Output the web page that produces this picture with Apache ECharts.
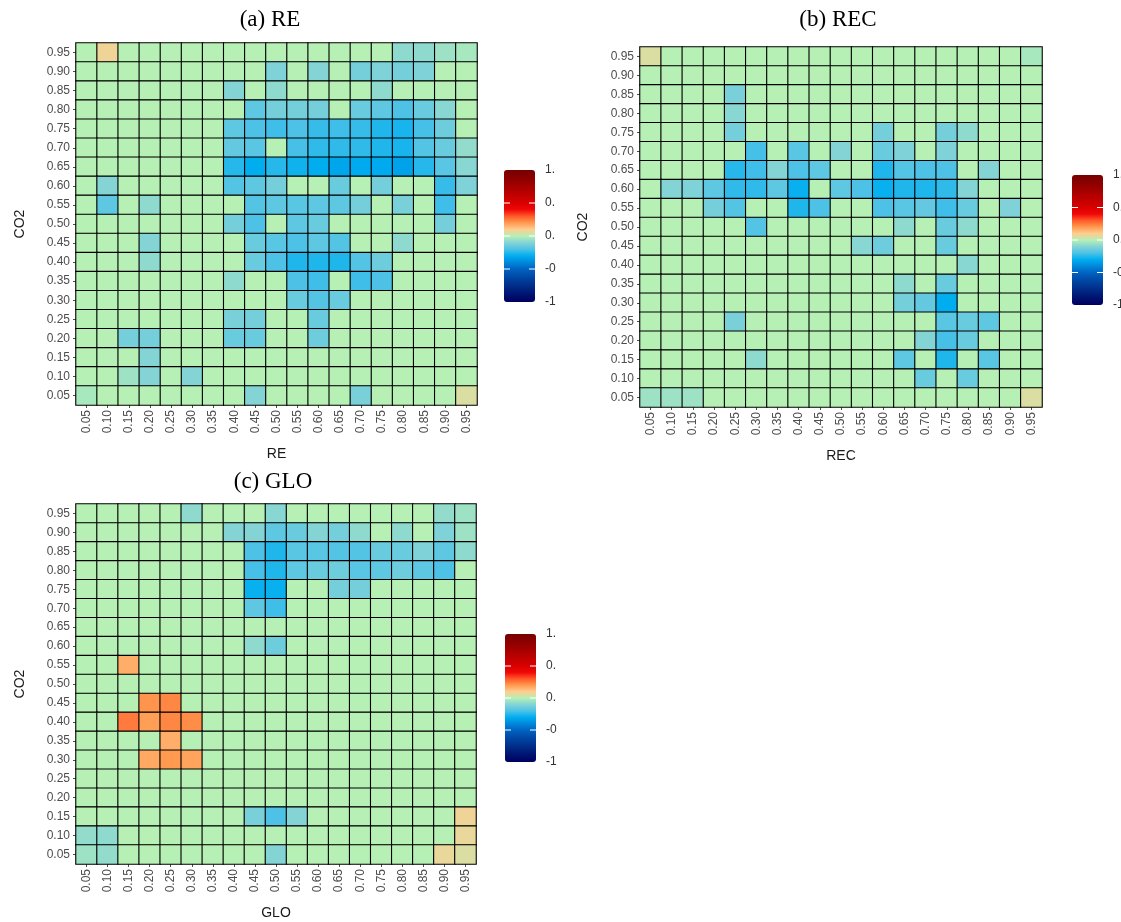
<!DOCTYPE html>
<html>
<head>
<meta charset="utf-8">
<script src="https://cdn.jsdelivr.net/npm/echarts@6/dist/echarts.min.js"></script>
<style>
  html, body { margin: 0; padding: 0; background: #ffffff; }
  #chart { width: 1121px; height: 922px; }
</style>
</head>
<body>
<div id="chart"></div>
<script>
// Shared category levels for both axes (0.05 ... 0.95)
const levels = ['0.05','0.10','0.15','0.20','0.25','0.30','0.35','0.40','0.45','0.50',
                '0.55','0.60','0.65','0.70','0.75','0.80','0.85','0.90','0.95'];

// Correlation grids: each row is one CO2 level, listed from 0.95 (top) down to 0.05 (bottom);
// each column is one level of the other variable, 0.05 ... 0.95.
const reRows = [
  [0,0.08,0,0,0,0,0,0,0,0,0,0,0,0,0,-0.08,-0.08,-0.05,-0.03],
  [0,0,0,0,0,0,0,0,0,-0.11,0,-0.1,0,-0.13,-0.11,-0.13,-0.11,0,0],
  [0,0,0,0,0,0,0,-0.1,0,-0.08,0,0,0,0,-0.08,0,0,0,0],
  [0,0,0,0,0,0,0,0,-0.17,-0.13,-0.13,-0.13,0,-0.15,-0.17,-0.2,-0.15,-0.09,0],
  [0,0,0,0,0,0,0,-0.17,-0.2,-0.22,-0.2,-0.23,-0.22,-0.23,-0.26,-0.27,-0.21,-0.14,0],
  [0,0,0,0,0,0,0,-0.16,-0.18,0,-0.21,-0.24,-0.24,-0.24,-0.26,-0.27,-0.19,-0.15,-0.07],
  [0,0,0,0,0,0,0,-0.25,-0.3,-0.25,-0.28,-0.3,-0.32,-0.31,-0.31,-0.33,-0.25,-0.18,-0.09],
  [0,-0.1,0,0,0,0,0,-0.19,-0.17,-0.13,0,0,-0.15,0,-0.13,0,0,-0.23,-0.11],
  [0,-0.17,0,-0.08,0,0,0,0,-0.19,-0.17,-0.18,-0.17,-0.17,-0.13,0,-0.12,0,-0.22,0],
  [0,0,0,0,0,0,0,-0.13,-0.2,0,-0.17,-0.15,0,0,0,0,0,-0.13,0],
  [0,0,0,-0.1,0,0,0,0,-0.15,-0.18,-0.2,-0.17,-0.19,0,0,-0.08,0,0,0],
  [0,0,0,-0.08,0,0,0,0,-0.15,-0.2,-0.26,-0.26,-0.26,-0.19,-0.14,0,0,0,0],
  [0,0,0,0,0,0,0,-0.08,0,0,-0.2,-0.22,0,-0.22,-0.2,0,0,0,0],
  [0,0,0,0,0,0,0,0,0,0,-0.15,-0.19,-0.15,0,0,0,0,0,0],
  [0,0,0,0,0,0,0,-0.12,-0.13,0,0,-0.15,0,0,0,0,0,0,0],
  [0,0,-0.13,-0.13,0,0,0,-0.15,-0.15,0,0,-0.14,0,0,0,0,0,0,0],
  [0,0,0,-0.1,0,0,0,0,0,0,0,0,0,0,0,0,0,0,0],
  [0,0,-0.05,-0.1,0,-0.1,0,0,0,0,0,0,0,0,0,0,0,0,0],
  [-0.03,0,0,0,0,0,0,0,-0.1,0,0,0,0,-0.12,0,0,0,0,0.05]
];

const recRows = [
  [0.05,0,0,0,0,0,0,0,0,0,0,0,0,0,0,0,0,0,-0.03],
  [0,0,0,0,0,0,0,0,0,0,0,0,0,0,0,0,0,0,0],
  [0,0,0,0,-0.12,0,0,0,0,0,0,0,0,0,0,0,0,0,0],
  [0,0,0,0,-0.09,0,0,0,0,0,0,0,0,0,0,0,0,0,0],
  [0,0,0,0,-0.13,0,0,0,0,0,0,-0.13,0,0,-0.13,-0.08,0,0,0],
  [0,0,0,0,0,-0.21,0,-0.18,0,-0.1,0,-0.15,-0.11,0,-0.11,0,0,0,0],
  [0,0,0,0,-0.25,-0.22,-0.1,-0.2,-0.17,0,0,-0.26,-0.19,-0.2,-0.2,0,-0.1,0,0],
  [0,-0.1,-0.11,-0.17,-0.24,-0.24,-0.17,-0.29,0,-0.17,-0.2,-0.29,-0.26,-0.26,-0.24,-0.1,0,0,0],
  [0,0,0,-0.13,-0.19,0,0,-0.26,-0.2,0,0,-0.2,-0.18,-0.16,-0.22,-0.15,0,-0.11,0],
  [0,0,0,0,0,-0.19,0,0,0,0,0,0,-0.08,0,-0.15,-0.08,0,0,0],
  [0,0,0,0,0,0,0,0,0,0,-0.09,-0.14,0,0,-0.15,0,0,0,0],
  [0,0,0,0,0,0,0,0,0,0,0,0,0,0,0,-0.09,0,0,0],
  [0,0,0,0,0,0,0,0,0,0,0,0,-0.08,0,-0.15,0,0,0,0],
  [0,0,0,0,0,0,0,0,0,0,0,0,-0.13,-0.16,-0.3,0,0,0,0],
  [0,0,0,0,-0.12,0,0,0,0,0,0,0,0,0,-0.18,-0.15,-0.17,0,0],
  [0,0,0,0,0,0,0,0,0,0,0,0,0,-0.1,-0.21,-0.15,0,0,0],
  [0,0,0,0,0,-0.08,0,0,0,0,0,0,-0.17,0,-0.26,0,-0.18,0,0],
  [0,0,0,0,0,0,0,0,0,0,0,0,0,-0.15,0,-0.15,0,0,0],
  [-0.05,-0.05,-0.05,0,0,0,0,0,0,0,0,0,0,0,0,0,0,0,0.05]
];

const gloRows = [
  [0,0,0,0,0,-0.08,0,0,0,-0.09,0,0,0,0,0,0,0,-0.07,-0.05],
  [0,0,0,0,0,0,0,-0.1,-0.1,-0.17,-0.15,-0.1,-0.13,-0.08,0,-0.08,0,-0.11,-0.05],
  [0,0,0,0,0,0,0,0,-0.2,-0.26,-0.18,-0.18,-0.19,-0.19,-0.15,-0.15,-0.11,-0.17,-0.08],
  [0,0,0,0,0,0,0,0,-0.21,-0.26,-0.17,-0.15,-0.14,-0.18,-0.17,-0.14,-0.17,-0.2,0],
  [0,0,0,0,0,0,0,0,-0.29,-0.29,0,0,-0.13,-0.13,0,0,0,0,0],
  [0,0,0,0,0,0,0,0,-0.17,-0.22,0,0,0,0,0,0,0,0,0],
  [0,0,0,0,0,0,0,0,0,0,0,0,0,0,0,0,0,0,0],
  [0,0,0,0,0,0,0,0,-0.08,-0.14,0,0,0,0,0,0,0,0,0],
  [0,0,0.16,0,0,0,0,0,0,0,0,0,0,0,0,0,0,0,0],
  [0,0,0,0,0,0,0,0,0,0,0,0,0,0,0,0,0,0,0],
  [0,0,0,0.21,0.23,0,0,0,0,0,0,0,0,0,0,0,0,0,0],
  [0,0,0.25,0.19,0.23,0.22,0,0,0,0,0,0,0,0,0,0,0,0,0],
  [0,0,0,0,0.16,0,0,0,0,0,0,0,0,0,0,0,0,0,0],
  [0,0,0,0.17,0.2,0.18,0,0,0,0,0,0,0,0,0,0,0,0,0],
  [0,0,0,0,0,0,0,0,0,0,0,0,0,0,0,0,0,0,0],
  [0,0,0,0,0,0,0,0,0,0,0,0,0,0,0,0,0,0,0],
  [0,0,0,0,0,0,0,0,-0.12,-0.2,-0.1,0,0,0,0,0,0,0,0.08],
  [-0.07,-0.08,0,0,0,0,0,0,0,0,0,0,0,0,0,0,0,0,0.07],
  [-0.05,-0.07,0,0,0,0,0,0,0,-0.1,0,0,0,0,0,0,0,0.07,0.05]
];

// Colour scale from -1 to +1 (evenly spaced stops) and its tick labels
const palette = ['#00005e','#001070','#002480','#003894','#004caa','#0064c2','#0088dc',
                 '#00aef0','#4ec2e6','#84d4d6','#b6f0b4','#ffcc90','#ff9a50','#ff5a28',
                 '#f00808','#da0000','#c40000','#b00000','#9c0000','#880000','#760000'];
const scaleTicks = [1, 0.5, 0, -0.5, -1];
const scaleTickLabels = ['1.0', '0.5', '0.0', '-0.5', '-1.0'];

const panels = [
  { title: '(a) RE',  xName: 'RE',  rows: reRows,  grid: { left: 76,  top: 43,  width: 401, height: 362 },
    titleX: 270, titleY: 20,  bar: { x: 504,  mid: 236, half: 66 }, labelW: 13 },
  { title: '(b) REC', xName: 'REC', rows: recRows, grid: { left: 640, top: 47,  width: 402, height: 360 },
    titleX: 838, titleY: 20,  bar: { x: 1072, mid: 240, half: 65 }, labelW: 40 },
  { title: '(c) GLO', xName: 'GLO', rows: gloRows, grid: { left: 76,  top: 504, width: 400, height: 360 },
    titleX: 273, titleY: 482, bar: { x: 505,  mid: 698, half: 64 }, labelW: 13 }
];

function toCells(rows) {
  const cells = [];
  rows.forEach((row, r) => {
    row.forEach((v, c) => cells.push([c, levels.length - 1 - r, v]));
  });
  return cells;
}

const axisFont = 'Liberation Sans, Arial, sans-serif';
const labelStyle = { color: '#4d4d4d', fontSize: 12, fontFamily: axisFont };
const nameStyle = { color: '#1a1a1a', fontSize: 14, fontFamily: axisFont };

const graphics = [];
panels.forEach(p => {
  // panel title
  graphics.push({
    type: 'text', x: p.titleX, y: p.titleY,
    style: { text: p.title, fill: '#000', font: '23px "Liberation Serif", "Times New Roman", serif',
             textAlign: 'center', textVerticalAlign: 'middle' }
  });
  // colour bar
  const b = p.bar;
  const top = b.mid - b.half, h = b.half * 2, w = 31;
  graphics.push({
    type: 'rect', shape: { x: b.x, y: top, width: w, height: h, r: 3 },
    style: { fill: { type: 'linear', x: 0, y: 0, x2: 0, y2: 1,
      colorStops: palette.slice().reverse().map((c, i) => ({ offset: i / (palette.length - 1), color: c })) } }
  });
  scaleTicks.forEach((t, i) => {
    const y = b.mid - t * b.half;
    if (Math.abs(t) < 1) {
      graphics.push({ type: 'line', shape: { x1: b.x, y1: y, x2: b.x + 6, y2: y }, style: { stroke: '#fff', lineWidth: 1 } });
      graphics.push({ type: 'line', shape: { x1: b.x + w - 6, y1: y, x2: b.x + w, y2: y }, style: { stroke: '#fff', lineWidth: 1 } });
    }
    graphics.push({
      type: 'text', x: b.x + 41, y: y,
      style: { text: scaleTickLabels[i], fill: '#333', font: '12px ' + axisFont,
               textVerticalAlign: 'middle', width: p.labelW, overflow: 'truncate', ellipsis: '' }
    });
  });
});

const option = {
  backgroundColor: '#ffffff',
  animation: false,
  grid: panels.map(p => Object.assign({ containLabel: false }, p.grid)),
  xAxis: panels.map((p, i) => ({
    type: 'category', gridIndex: i, data: levels,
    name: p.xName, nameLocation: 'middle', nameGap: 42, nameTextStyle: nameStyle,
    axisLine: { show: false },
    axisTick: { show: true, length: 3, alignWithLabel: true, lineStyle: { color: '#4d4d4d' } },
    axisLabel: Object.assign({ rotate: 90, margin: 5, interval: 0 }, labelStyle),
    splitLine: { show: false }
  })),
  yAxis: panels.map((p, i) => ({
    type: 'category', gridIndex: i, data: levels,
    name: 'CO2', nameLocation: 'middle', nameGap: i === 1 ? 50 : 49, nameTextStyle: nameStyle,
    axisLine: { show: false },
    axisTick: { show: true, length: 3, alignWithLabel: true, lineStyle: { color: '#4d4d4d' } },
    axisLabel: Object.assign({ margin: 6, interval: 0 }, labelStyle),
    splitLine: { show: false }
  })),
  visualMap: {
    type: 'continuous', show: false, min: -1, max: 1,
    seriesIndex: [0, 1, 2], inRange: { color: palette }
  },
  series: panels.map((p, i) => ({
    type: 'heatmap', xAxisIndex: i, yAxisIndex: i,
    data: toCells(p.rows),
    itemStyle: { borderColor: '#000', borderWidth: 1.1 },
    emphasis: { disabled: true },
    progressive: 0
  })),
  graphic: graphics
};

const chart = echarts.init(document.getElementById('chart'), null, { renderer: 'canvas' });
chart.setOption(option);
</script>
</body>
</html>
